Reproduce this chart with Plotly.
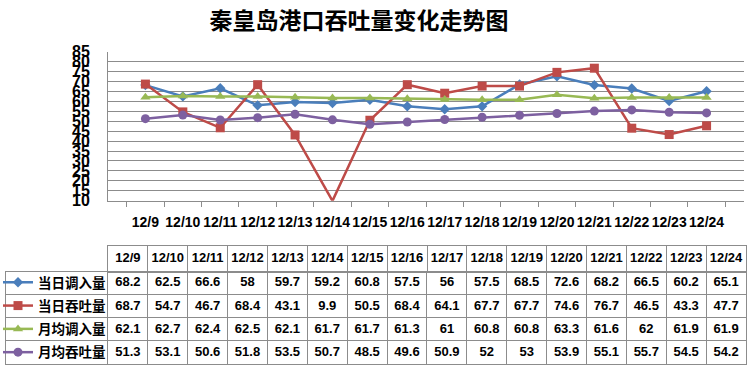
import plotly.graph_objects as go

dates = ["12/9", "12/10", "12/11", "12/12", "12/13", "12/14", "12/15", "12/16",
         "12/17", "12/18", "12/19", "12/20", "12/21", "12/22", "12/23", "12/24"]
daily_in = [68.2, 62.5, 66.6, 58, 59.7, 59.2, 60.8, 57.5, 56, 57.5, 68.5, 72.6, 68.2, 66.5, 60.2, 65.1]
daily_through = [68.7, 54.7, 46.7, 68.4, 43.1, 9.9, 50.5, 68.4, 64.1, 67.7, 67.7, 74.6, 76.7, 46.5, 43.3, 47.7]
month_in = [62.1, 62.7, 62.4, 62.5, 62.1, 61.7, 61.7, 61.3, 61, 60.8, 60.8, 63.3, 61.6, 62, 61.9, 61.9]
month_through = [51.3, 53.1, 50.6, 51.8, 53.5, 50.7, 48.5, 49.6, 50.9, 52, 53, 53.9, 55.1, 55.7, 54.5, 54.2]
series_names = ["当日调入量", "当日吞吐量", "月均调入量", "月均吞吐量"]
y_ticks = list(range(10, 90, 5))

W, H = 751, 373
colors = ["#4A7EBB", "#BE4B48", "#98B954", "#7D60A0"]
symbols = ["diamond", "square", "triangle-up", "circle"]
msizes = [8, 9, 9, 9]
series = [daily_in, daily_through, month_in, month_through]
grid = "#8C8C8C"
cell_font = dict(family="Liberation Sans", size=13, color="black", weight="bold")

fig = go.Figure()
for i, (name, vals) in enumerate(zip(series_names, series)):
    fig.add_trace(go.Scatter(
        x=dates, y=vals, name=name, mode="lines+markers",
        line=dict(color=colors[i], width=2.5),
        marker=dict(symbol=symbols[i], size=msizes[i], color=colors[i]),
        legendgroup=f"g{i}", cliponaxis=False, hoverinfo="x+y+name",
    ))

def fmt(v):
    return f"{v:g}"

n = len(dates)
nrow = len(series)
# table body: one text trace per row
for r, vals in enumerate(series):
    fig.add_trace(go.Scatter(
        x=[j + 0.5 for j in range(n)], y=[nrow - r - 0.5] * n,
        text=[fmt(v) for v in vals], mode="text", textposition="middle center",
        textfont=cell_font, xaxis="x2", yaxis="y2", showlegend=False, hoverinfo="skip",
    ))
# table header
fig.add_trace(go.Scatter(
    x=[j + 0.5 for j in range(n)], y=[0.5] * n, text=dates, mode="text",
    textposition="middle center", textfont=cell_font, xaxis="x3", yaxis="y3",
    showlegend=False, hoverinfo="skip",
))

first_col = 102.3 / 39.9
tbl_axis = dict(showline=True, mirror=True, linecolor=grid, linewidth=1, showgrid=True,
                gridcolor=grid, gridwidth=1, zeroline=False, ticks="", showticklabels=False,
                automargin=False, fixedrange=True)

fig.update_layout(
    width=W, height=H, margin=dict(l=0, r=0, t=0, b=0, autoexpand=False),
    paper_bgcolor="white", plot_bgcolor="white",
    title=dict(text="<b>秦皇岛港口吞吐量变化走势图</b>", x=359 / W, xanchor="center",
               y=1 - 21 / H, yanchor="middle",
               font=dict(family="Noto Sans CJK SC", size=23, color="black")),
    xaxis=dict(domain=[108 / W, 744 / W], type="category", tickson="boundaries",
               ticks="outside", ticklen=5, tickcolor=grid, showline=True, linecolor=grid,
               showgrid=False, ticklabelstandoff=8, tickangle=0, automargin=False,
               tickfont=dict(family="Liberation Sans", size=14, color="black", weight="bold")),
    yaxis=dict(domain=[1 - 200.7 / H, 1 - 51.7 / H], range=[10, 85], tickvals=y_ticks,
               showgrid=True, gridcolor=grid, gridwidth=1, showline=True, linecolor=grid,
               ticks="", zeroline=False, ticklabelstandoff=14, automargin=False,
               tickfont=dict(family="Liberation Sans", size=16, color="black", weight="bold")),
    xaxis2=dict(tbl_axis, domain=[5.7 / W, 746 / W], range=[-first_col, n],
                tickvals=list(range(0, n)), anchor="y2"),
    yaxis2=dict(tbl_axis, domain=[1 - 364 / H, 1 - 271.7 / H], range=[0, nrow],
                tickvals=list(range(1, nrow)), anchor="x2"),
    xaxis3=dict(tbl_axis, domain=[108 / W, 746 / W], range=[0, n],
                tickvals=list(range(1, n)), anchor="y3"),
    yaxis3=dict(tbl_axis, domain=[1 - 271.7 / H, 1 - 246 / H], range=[0, 1],
                showgrid=False, anchor="x3"),
    showlegend=True,
    legend=dict(x=-2 / W, xanchor="left", y=1 - 267 / H, yanchor="top",
                bgcolor="rgba(0,0,0,0)", borderwidth=0, tracegroupgap=2.75,
                font=dict(family="Noto Sans CJK SC", size=13.5, color="black", weight="bold")),
)

fig.write_html("out.html", config={"displayModeBar": False},
               post_script="document.body.style.margin='0';document.body.style.overflow='hidden';")
